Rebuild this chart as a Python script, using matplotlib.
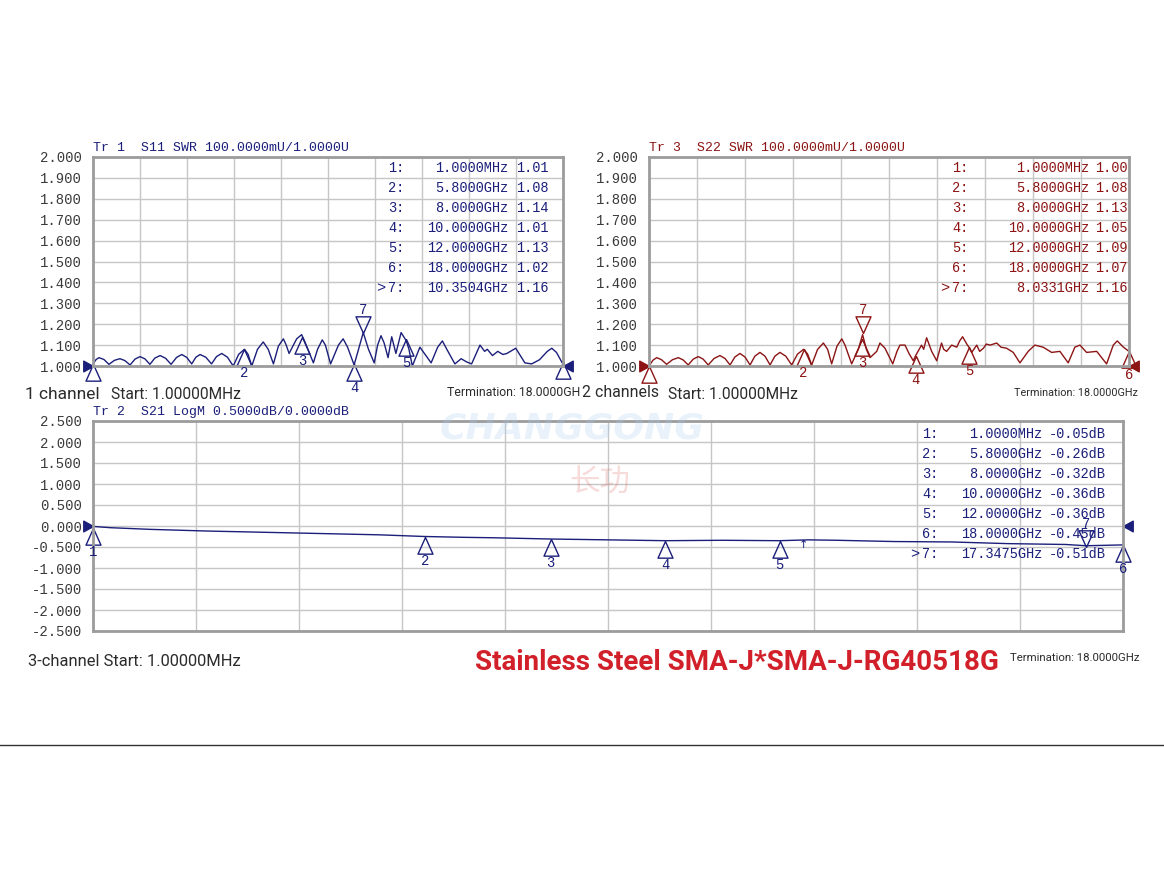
import numpy as np
import matplotlib
matplotlib.use("Agg")
import matplotlib.pyplot as plt
from matplotlib.path import Path

#----------------------------------------------------------------------------------------#
# Data

s11_freq = [0.001, 0.12, 0.23, 0.42, 0.61, 0.82, 1.03, 1.22, 1.42, 1.61, 1.80, 1.99, 2.18,
            2.37, 2.57, 2.78, 2.99, 3.20, 3.40, 3.59, 3.78, 3.94, 4.10, 4.32, 4.54, 4.73,
            4.93, 5.15, 5.37, 5.58, 5.80, 5.94, 6.08, 6.30, 6.52, 6.71, 6.91, 7.10, 7.29,
            7.40, 7.51, 7.80, 7.99, 8.10, 8.44, 8.60, 8.78, 8.90, 9.10, 9.40, 9.58, 9.75,
            10.00, 10.35, 10.55, 10.77, 10.90, 11.03, 11.15, 11.30, 11.44, 11.60, 11.80,
            12.00, 12.10, 12.23, 12.52, 12.95, 13.20, 13.38, 13.55, 13.86, 14.10, 14.30,
            14.50, 14.82, 15.00, 15.10, 15.30, 15.50, 15.70, 15.85, 16.19, 16.54, 16.80,
            17.10, 17.40, 17.57, 17.75, 17.97, 18.00]
s11_val = [1.010, 1.031, 1.040, 1.031, 1.008, 1.027, 1.035, 1.026, 1.005, 1.033, 1.045, 1.034, 1.008,
           1.038, 1.050, 1.037, 1.008, 1.041, 1.055, 1.041, 1.010, 1.042, 1.055, 1.042, 1.010, 1.045,
           1.060, 1.042, 1.000, 1.056, 1.080, 1.056, 1.000, 1.080, 1.115, 1.080, 1.010, 1.095, 1.130,
           1.100, 1.060, 1.130, 1.150, 1.120, 1.015, 1.080, 1.125, 1.100, 1.010, 1.100, 1.130, 1.090,
           1.005, 1.160, 1.080, 1.015, 1.100, 1.145, 1.110, 1.040, 1.140, 1.060, 1.160,
           1.120, 1.080, 1.000, 1.090, 1.015, 1.090, 1.120, 1.080, 1.010, 1.035, 1.020,
           1.010, 1.100, 1.070, 1.080, 1.050, 1.070, 1.055, 1.060, 1.085, 1.015, 1.010,
           1.030, 1.070, 1.085, 1.065, 1.015, 1.020]

s22_freq = [0.001, 0.15, 0.29, 0.47, 0.66, 0.88, 1.10, 1.28, 1.47, 1.66, 1.85, 2.03, 2.22,
            2.44, 2.66, 2.85, 3.04, 3.22, 3.41, 3.60, 3.79, 3.97, 4.16, 4.35, 4.54, 4.72,
            4.91, 5.13, 5.35, 5.57, 5.80, 5.95, 6.10, 6.32, 6.54, 6.70, 6.85, 7.05, 7.23,
            7.35, 7.60, 7.85, 8.01, 8.15, 8.29, 8.54, 8.66, 8.85, 9.14, 9.30, 9.41, 9.60,
            9.75, 9.91, 10.00, 10.22, 10.30, 10.41, 10.60, 10.79, 10.97, 11.05, 11.16, 11.35,
            11.54, 11.65, 11.76, 11.94, 12.00, 12.10, 12.29, 12.40, 12.54, 12.65, 12.79,
            13.04, 13.20, 13.41, 13.66, 13.91, 14.22, 14.47, 14.78, 15.10, 15.41, 15.72,
            15.97, 16.16, 16.41, 16.79, 17.16, 17.41, 17.56, 17.79, 18.00]
s22_val = [1.000, 1.028, 1.040, 1.030, 1.008, 1.030, 1.040, 1.029, 1.005, 1.033, 1.045, 1.033, 1.005,
           1.036, 1.050, 1.036, 1.005, 1.043, 1.060, 1.043, 1.005, 1.047, 1.065, 1.047, 1.005, 1.047,
           1.065, 1.047, 1.005, 1.057, 1.080, 1.057, 1.005, 1.079, 1.110, 1.079, 1.010, 1.095, 1.130,
           1.100, 1.010, 1.080, 1.150, 1.080, 1.040, 1.070, 1.110, 1.085, 1.010, 1.070, 1.100, 1.100,
           1.060, 1.025, 1.050, 1.100, 1.080, 1.135, 1.070, 1.025, 1.110, 1.080, 1.070, 1.100,
           1.090, 1.120, 1.140, 1.100, 1.090, 1.065, 1.100, 1.070, 1.085, 1.105, 1.100,
           1.110, 1.090, 1.085, 1.065, 1.015, 1.070, 1.100, 1.090, 1.065, 1.070, 1.015,
           1.090, 1.100, 1.065, 1.070, 1.010, 1.100, 1.120, 1.090, 1.070]

s21_freq = [0.001, 0.3, 1.0, 2.0, 3.0, 4.0, 5.0, 5.8, 6.5, 7.0, 8.0, 9.0, 10.0, 11.0, 12.0,
            12.5, 13.0, 14.0, 15.0, 16.0, 17.0, 17.35, 18.0]
s21_val = [-0.01, -0.04, -0.08, -0.12, -0.15, -0.18, -0.21, -0.25, -0.27, -0.28, -0.31, -0.33,
           -0.35, -0.34, -0.35, -0.33, -0.34, -0.37, -0.38, -0.42, -0.44, -0.47, -0.45]

mk_ids = ["1", "2", "3", "4", "5", "6", "7"]
mk_freq_txt = ["1.0000MHz", "5.8000GHz", "8.0000GHz", "10.0000GHz", "12.0000GHz", "18.0000GHz"]

s11_mk_freq = [0.001, 5.8, 8.0, 10.0, 12.0, 18.0, 10.3504]
s11_mk_val = [1.01, 1.08, 1.14, 1.01, 1.13, 1.02, 1.16]
s11_mk_txt = mk_freq_txt + ["10.3504GHz"]

s22_mk_freq = [0.001, 5.8, 8.0, 10.0, 12.0, 18.0, 8.0331]
s22_mk_val = [1.00, 1.08, 1.13, 1.05, 1.09, 1.07, 1.16]
s22_mk_txt = mk_freq_txt + ["8.0331GHz"]

s21_mk_freq = [0.001, 5.8, 8.0, 10.0, 12.0, 18.0, 17.3475]
s21_mk_val = [-0.05, -0.26, -0.32, -0.36, -0.36, -0.45, -0.51]
s21_mk_txt = mk_freq_txt + ["17.3475GHz"]

#----------------------------------------------------------------------------------------#
# Figure setup

W, H = 1164, 873
fig = plt.figure(figsize=(W / 100, H / 100), dpi=100)
fig.patch.set_facecolor("white")

MONO = ["Liberation Mono", "DejaVu Sans Mono"]
CAP = ["Roboto", "DejaVu Sans"]
BLUE = "#1b1f7a"
RED = "#8c1414"


def px_axes(left, top, right, bottom):
    return fig.add_axes([left / W, 1 - bottom / H, (right - left) / W, (bottom - top) / H])


def ftext(x, y, s, **kw):
    kw.setdefault("va", "center")
    return fig.text(x / W, 1 - y / H, s, **kw)


tri_up = Path([(0, 0), (-0.45, -1), (0.45, -1), (0, 0)])
tri_dn = Path([(0, 0), (-0.45, 1), (0.45, 1), (0, 0)])
ref_right = Path([(0, 0), (-1, 0.55), (-1, -0.55), (0, 0)])
ref_left = Path([(0, 0), (1, 0.55), (1, -0.55), (0, 0)])


def setup(ax, ymin, ymax, step):
    ax.set_xlim(0, 18)
    ax.set_ylim(ymin, ymax)
    ax.set_xticks(np.linspace(0, 18, 11))
    ax.set_xticklabels([])
    ticks = np.arange(ymin, ymax + step / 2, step)
    ax.set_yticks(ticks)
    ax.set_yticklabels(["%.3f" % t for t in ticks], family=MONO, fontsize=10, color="#3a3a3a")
    ax.tick_params(length=0, pad=8)
    ax.grid(True, color="#c6c6c6", lw=1)
    ax.set_axisbelow(True)
    for sp in ax.spines.values():
        sp.set_color("#9c9c9c")
        sp.set_linewidth(2)


def markers(ax, freq, val, color, show_lbl, yref):
    for i, (f, v) in enumerate(zip(freq, val)):
        if i == 6:
            ax.plot([f], [v], marker=tri_dn, ms=24, mfc="none", mec=color, mew=1, clip_on=False)
            ax.annotate(mk_ids[i], (f, v), xytext=(0, 23), textcoords="offset pixels",
                        ha="center", va="center", family=MONO, fontsize=10, color=color,
                        annotation_clip=False)
        else:
            ax.plot([f], [v], marker=tri_up, ms=24, mfc="none", mec=color, mew=1, clip_on=False)
            if show_lbl[i]:
                ax.annotate(mk_ids[i], (f, v), xytext=(0, -24), textcoords="offset pixels",
                            ha="center", va="center", family=MONO, fontsize=10, color=color,
                            annotation_clip=False)
    ax.plot([0], [yref], marker=ref_right, ms=14, color=color, clip_on=False)
    ax.plot([18], [yref], marker=ref_left, ms=14, color=color, clip_on=False)


def table(x_id, x_freq, x_val, y0, txt, vals, color):
    for i in range(7):
        y = y0 + 20 * i
        ftext(x_id, y, mk_ids[i] + ":", family=MONO, fontsize=9.8, color=color)
        ftext(x_freq, y, txt[i], family=MONO, fontsize=9.8, color=color, ha="right")
        ftext(x_val, y, vals[i], family=MONO, fontsize=9.8, color=color)
    ftext(x_id - 12, y0 + 120, ">", family=MONO, fontsize=11, color=color)

#----------------------------------------------------------------------------------------#
# Tr 1  S11

ax1 = px_axes(93, 157, 563, 366)
setup(ax1, 1.0, 2.0, 0.1)
ax1.plot(s11_freq, s11_val, color=BLUE, lw=1)
markers(ax1, s11_mk_freq, s11_mk_val, BLUE, [False, True, True, True, True, False], 1.0)
ftext(93, 148, "Tr 1  S11 SWR 100.0000mU/1.0000U", family=MONO, fontsize=9.5, color=BLUE)
table(388, 508, 516, 168, s11_mk_txt, ["%.2f" % v for v in s11_mk_val], BLUE)

#----------------------------------------------------------------------------------------#
# Tr 3  S22

ax3 = px_axes(649, 157, 1129, 366)
setup(ax3, 1.0, 2.0, 0.1)
ax3.plot(s22_freq, s22_val, color=RED, lw=1)
markers(ax3, s22_mk_freq, s22_mk_val, RED, [False, True, True, True, True, True], 1.0)
ftext(649, 148, "Tr 3  S22 SWR 100.0000mU/1.0000U", family=MONO, fontsize=9.5, color=RED)
table(952, 1089, 1095, 168, s22_mk_txt, ["%.2f" % v for v in s22_mk_val], RED)

#----------------------------------------------------------------------------------------#
# Tr 2  S21

ax2 = px_axes(93, 421, 1123, 631)
setup(ax2, -2.5, 2.5, 0.5)
ax2.plot(s21_freq, s21_val, color=BLUE, lw=1)
markers(ax2, s21_mk_freq, s21_mk_val, BLUE, [True] * 6, 0.0)
ftext(93, 412, "Tr 2  S21 LogM 0.5000dB/0.0000dB", family=MONO, fontsize=9.5, color=BLUE)
table(922, 1042, 1049, 434, s21_mk_txt, ["%.2fdB" % v for v in s21_mk_val], BLUE)
ftext(803, 545, "\u2191", fontsize=8, color=BLUE, ha="center")

# watermark
ftext(572, 428, "CHANGGONG", fontsize=26, style="italic", weight="bold",
      color="#a9cdee", alpha=0.25, ha="center")
ftext(600, 483, "长功", family=["Noto Sans CJK SC", "DejaVu Sans"], fontsize=22,
      color="#e07070", alpha=0.25, ha="center")

#----------------------------------------------------------------------------------------#
# Captions

DARK = "#2b2b2b"
ftext(25, 395, "1 channel", family=CAP, fontsize=12.5, color=DARK)
ftext(111, 395, "Start: 1.00000MHz", family=CAP, fontsize=11.2, color=DARK)
ftext(447, 393, "Termination: 18.0000GH", family=CAP, fontsize=8.8, color=DARK)
ftext(582, 393, "2 channels", family=CAP, fontsize=11.4, color=DARK)
ftext(668, 395, "Start: 1.00000MHz", family=CAP, fontsize=11.2, color=DARK)
ftext(1014, 393, "Termination: 18.0000GHz", family=CAP, fontsize=7.8, color=DARK)
ftext(28, 661, "3-channel Start: 1.00000MHz", family=CAP, fontsize=11.9, color=DARK)
ftext(475, 662, "Stainless Steel SMA-J*SMA-J-RG40518G", family=CAP, fontsize=20,
      weight="bold", color="#d2202a")
ftext(1010, 658, "Termination: 18.0000GHz", family=CAP, fontsize=8.2, color=DARK)

fig.add_artist(plt.Line2D([0, 1], [1 - 745 / H, 1 - 745 / H], color="#333333", lw=1))

plt.savefig("out.png", dpi=100)
